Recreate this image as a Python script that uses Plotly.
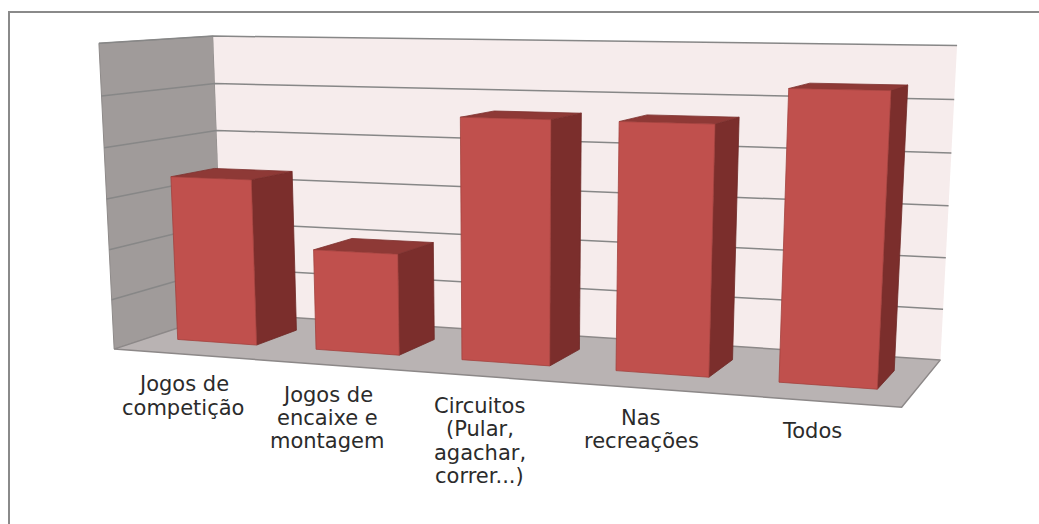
import numpy as np
import plotly.graph_objects as go

# categorias (uma linha de texto por item) e valores (% das respostas)
categories = [
    ["Jogos de", "competição"],
    ["Jogos de", "encaixe e", "montagem"],
    ["Circuitos", "(Pular,", "agachar,", "correr...)"],
    ["Nas", "recreações"],
    ["Todos"],
]
values = [33.3, 20.0, 46.7, 46.7, 53.3]
grid_values = [10, 20, 30, 40, 50, 60]
value_max = 60

# vista 3D tipo Excel (rotação ~20° / ~14°, perspectiva)
YAW, PITCH = 0.3516, 0.2437
FOCAL = 1971.3
CX, CY = 514.2, 459.8
CAM = np.array([6.656, -10.7355, 2.3485])
DEPTH, HEIGHT, HALF_W = 1.4527, 1.9091, 0.2884
N = len(values)

F = np.array([-np.sin(YAW) * np.cos(PITCH), np.cos(YAW) * np.cos(PITCH), -np.sin(PITCH)])
R = np.array([np.cos(YAW), np.sin(YAW), 0.0])
U = np.array([-np.sin(YAW) * np.sin(PITCH), np.cos(YAW) * np.sin(PITCH), np.cos(PITCH)])


def project(pts):
    v = np.atleast_2d(np.array(pts, dtype=float)) - CAM
    a, b, c = v @ R, v @ U, v @ F
    return CX + FOCAL * a / c, CY - FOCAL * b / c


def face(fig, pts, fill, line_color=None, width=0):
    sx, sy = project(pts)
    fig.add_trace(go.Scatter(x=list(sx) + [sx[0]], y=list(sy) + [sy[0]], mode='lines', fill='toself',
                             fillcolor=fill, line=dict(color=line_color or fill, width=width),
                             hoverinfo='skip'))


def zval(v):
    return v / value_max * HEIGHT


fig = go.Figure()

# paredes e chão
face(fig, [(0, 0, 0), (0, DEPTH, 0), (0, DEPTH, HEIGHT), (0, 0, HEIGHT)], '#A09B9A', '#8E8A89', 1)
face(fig, [(0, DEPTH, 0), (N, DEPTH, 0), (N, DEPTH, HEIGHT), (0, DEPTH, HEIGHT)], '#F6ECEC')
face(fig, [(0, 0, 0), (N, 0, 0), (N, DEPTH, 0), (0, DEPTH, 0)], '#B9B3B3', '#8C8888', 1.5)

# linhas de grade
for g in grid_values:
    sx, sy = project([(0, 0, zval(g)), (0, DEPTH, zval(g)), (N, DEPTH, zval(g))])
    fig.add_trace(go.Scatter(x=sx, y=sy, mode='lines', line=dict(color='#878787', width=1.5),
                             hoverinfo='skip'))

# colunas
for i, v in enumerate(values):
    x0, x1 = i + 0.5 - HALF_W, i + 0.5 + HALF_W
    y0, y1 = DEPTH / 2 - HALF_W, DEPTH / 2 + HALF_W
    h = zval(v)
    face(fig, [(x1, y0, 0), (x1, y1, 0), (x1, y1, h), (x1, y0, h)], '#7B2E2C', '#6E2927', 0.8)
    face(fig, [(x0, y0, h), (x1, y0, h), (x1, y1, h), (x0, y1, h)], '#8E3936', '#7E312F', 0.8)
    face(fig, [(x0, y0, 0), (x1, y0, 0), (x1, y0, h), (x0, y0, h)], '#C0504D', '#A3413E', 0.8)

# rótulos das categorias
for i, lines in enumerate(categories):
    px, py = project([(i + 0.5, 0, 0)])
    for j, line in enumerate(lines):
        fig.add_annotation(x=px[0], y=py[0] + 30 + 23.3 * j, text=line, showarrow=False,
                           xanchor='center', yanchor='middle',
                           font=dict(family='DejaVu Sans', size=21, color='#2b2b2b'))

# moldura do gráfico
fig.add_shape(type='rect', x0=9, y0=12, x1=1200, y1=700, line=dict(color='#8A8A8A', width=2))

fig.update_layout(width=1039, height=524, margin=dict(l=0, r=0, t=0, b=0), showlegend=False,
                  xaxis=dict(range=[0, 1039], visible=False, fixedrange=True),
                  yaxis=dict(range=[524, 0], visible=False, fixedrange=True),
                  plot_bgcolor='white', paper_bgcolor='white')
fig.write_html("out.html", config={'displayModeBar': False},
               post_script="document.body.style.margin='0';")
